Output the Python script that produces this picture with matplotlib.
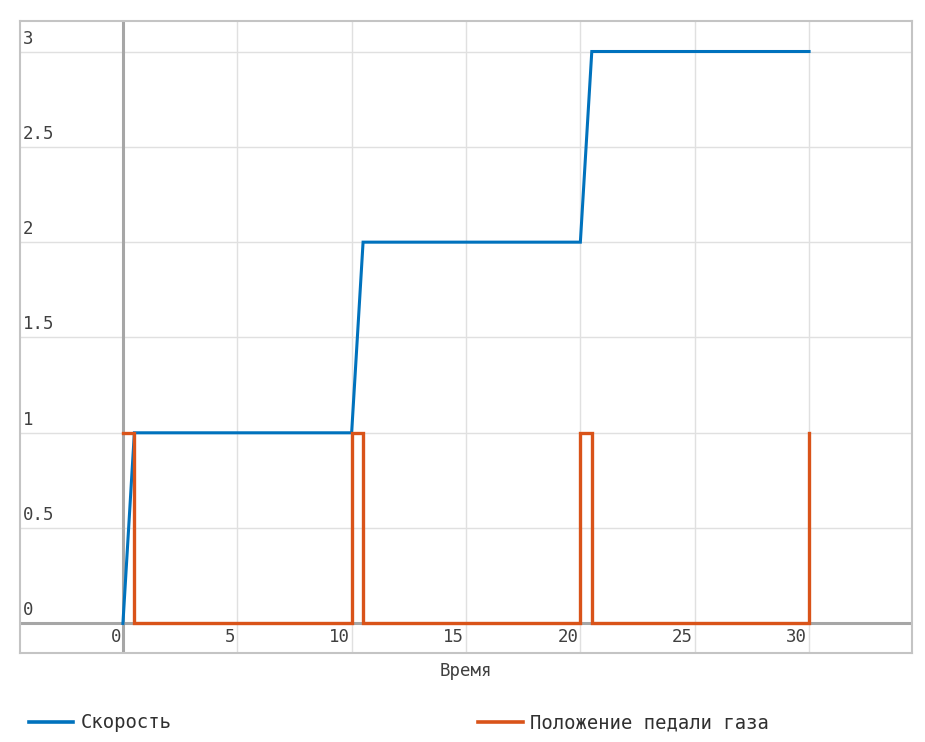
import matplotlib
matplotlib.use("Agg")
import matplotlib.pyplot as plt

speed_t = [0, 0.5, 10, 10.5, 20, 20.5, 30]
speed_v = [0, 1, 1, 2, 2, 3, 3]
pedal_t = [0, 0.5, 0.5, 10, 10, 10.5, 10.5, 20, 20, 20.5, 20.5, 30, 30]
pedal_v = [1, 1, 0, 0, 1, 1, 0, 0, 1, 1, 0, 0, 1]
x_ticks = [0, 5, 10, 15, 20, 25, 30]
y_ticks = [0, 0.5, 1, 1.5, 2, 2.5, 3]
y_labels = ["0", "0.5", "1", "1.5", "2", "2.5", "3"]
series_names = ["Скорость", "Положение педали газа"]
x_title = "Время"

mono = ["DejaVu Sans Mono"]
W, H = 925, 742
fig = plt.figure(figsize=(W / 100, H / 100), dpi=100)
ax = fig.add_axes([20 / W, (H - 653) / H, (912 - 20) / W, (653 - 21) / H])
ax.set_xlim(-4.5, 34.5)
ax.set_ylim(-0.155, 3.16)

for x in x_ticks:
    if x != 0:
        ax.axvline(x, color="#e0e0e0", lw=1, zorder=0)
for y in y_ticks:
    if y != 0:
        ax.axhline(y, color="#e0e0e0", lw=1, zorder=0)
ax.axvline(0, color="#a6a6a6", lw=2.2, zorder=1)
ax.axhline(0, color="#a6a6a6", lw=2.2, zorder=1)

ax.plot(speed_t, speed_v, color="#0072bd", lw=2.2, zorder=3, solid_joinstyle="miter")
ax.plot(pedal_t, pedal_v, color="#d95319", lw=2.4, zorder=3, solid_joinstyle="miter")

ax.set_xticks([])
ax.set_yticks([])
for s in ax.spines.values():
    s.set_color("#c4c4c4")
    s.set_linewidth(1.5)

for y, lab in zip(y_ticks, y_labels):
    ax.annotate(lab, xy=(0, y), xycoords=("axes fraction", "data"),
                xytext=(3, 8), textcoords="offset pixels", ha="left", va="baseline",
                fontsize=12.5, family=mono, color="#404040")
for x in x_ticks:
    ax.annotate(str(x), xy=(x, 0), xycoords="data", xytext=(-2, -14),
                textcoords="offset pixels", ha="right", va="center",
                fontsize=12.5, family=mono, color="#404040")

fig.text(466 / W, 1 - 671 / H, x_title, ha="center", va="center",
         fontsize=12.5, family=mono, color="#404040")

# legend
def legend_item(x0, x1, xt, color, text):
    fig.add_artist(plt.Line2D([x0 / W, x1 / W], [1 - 722 / H] * 2, color=color, lw=2.6))
    fig.text(xt / W, 1 - 723 / H, text, ha="left", va="center",
             fontsize=13.6, family=mono, color="#303030")

legend_item(29, 73, 81, "#0072bd", series_names[0])
legend_item(478, 523, 530, "#d95319", series_names[1])

fig.savefig("out.png", dpi=100, facecolor="white")
